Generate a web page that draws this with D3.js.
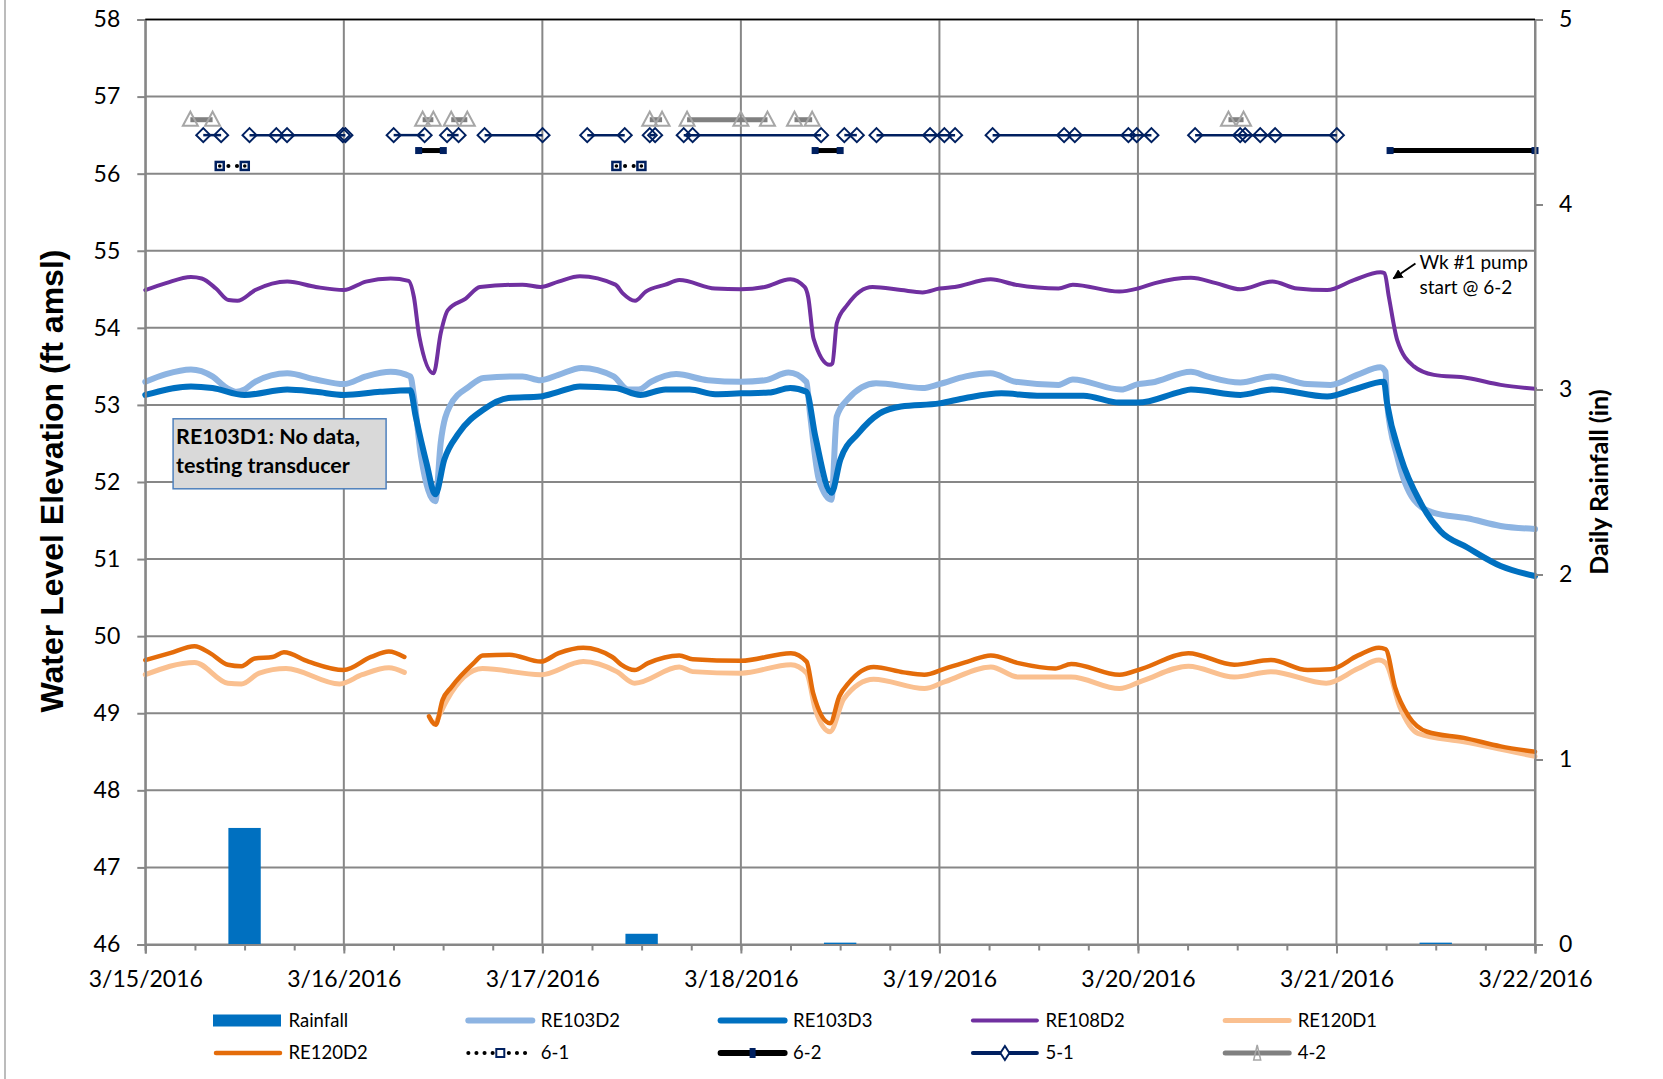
<!DOCTYPE html>
<html>
<head>
<meta charset="utf-8">
<script src="https://cdn.jsdelivr.net/npm/d3@7/dist/d3.min.js"></script>
<style>
  body { margin: 0; background: #fff; }
</style>
</head>
<body>
<div id="chart"></div>
<script>
// time is kept as days after 3/15/2016 00:00
var leftTicks = [46, 47, 48, 49, 50, 51, 52, 53, 54, 55, 56, 57, 58];
var rightTicks = [0, 1, 2, 3, 4, 5];

// daily rainfall (in), plotted at noon of each day
var rainDays = [0.5, 1.5, 2.5, 3.5, 4.5, 5.5, 6.5];
var rainfall = [0.63, 0, 0.058, 0.01, 0, 0, 0.01];

var re103d2 = [[0,53.3],[0.104,53.4],[0.23,53.46],[0.338,53.37],[0.41,53.22],[0.46,53.17],[0.5,53.2],[0.553,53.3],[0.715,53.41],[0.859,53.33],[1.0,53.27],[1.111,53.37],[1.236,53.43],[1.335,53.37],[1.353,53.11],[1.389,52.33],[1.461,51.75],[1.488,52.51],[1.533,52.98],[1.632,53.24],[1.704,53.35],[1.9,53.37],[1.99,53.32],[2.081,53.39],[2.197,53.48],[2.359,53.37],[2.431,53.2],[2.485,53.2],[2.548,53.3],[2.674,53.4],[2.834,53.32],[3.0,53.3],[3.122,53.32],[3.24,53.42],[3.33,53.3],[3.348,52.89],[3.393,52.03],[3.456,51.77],[3.483,52.85],[3.537,53.07],[3.681,53.28],[3.915,53.22],[4.0,53.27],[4.132,53.37],[4.258,53.41],[4.384,53.3],[4.6,53.26],[4.672,53.33],[4.915,53.2],[5.0,53.27],[5.068,53.29],[5.267,53.43],[5.348,53.37],[5.516,53.29],[5.676,53.37],[5.852,53.27],[5.97,53.26],[6.104,53.39],[6.222,53.49],[6.247,53.43],[6.255,53.02],[6.306,52.33],[6.39,51.77],[6.491,51.6],[6.659,51.53],[6.827,51.43],[7.0,51.39]];

var re103d3 = [[0,53.13],[0.23,53.24],[0.338,53.22],[0.5,53.13],[0.715,53.2],[0.859,53.17],[1.0,53.13],[1.183,53.17],[1.335,53.19],[1.362,52.85],[1.416,52.25],[1.461,51.84],[1.506,52.29],[1.578,52.63],[1.704,52.94],[1.829,53.09],[1.99,53.11],[2.081,53.17],[2.189,53.24],[2.368,53.22],[2.494,53.13],[2.62,53.2],[2.742,53.2],[2.87,53.14],[3.0,53.15],[3.14,53.16],[3.249,53.22],[3.33,53.17],[3.375,52.59],[3.456,51.86],[3.501,52.29],[3.591,52.63],[3.699,52.89],[3.807,52.98],[4.0,53.02],[4.132,53.09],[4.312,53.15],[4.492,53.12],[4.726,53.12],[4.906,53.03],[5.0,53.03],[5.213,53.17],[5.267,53.2],[5.516,53.13],[5.676,53.2],[5.953,53.11],[6.087,53.2],[6.239,53.3],[6.255,53.02],[6.323,52.33],[6.424,51.73],[6.524,51.36],[6.659,51.15],[6.827,50.91],[7.0,50.78]];

var re108d2 = [[0,54.49],[0.104,54.58],[0.23,54.66],[0.284,54.64],[0.356,54.51],[0.419,54.36],[0.464,54.35],[0.554,54.49],[0.715,54.6],[0.859,54.53],[1.0,54.49],[1.111,54.6],[1.236,54.64],[1.326,54.61],[1.353,54.4],[1.38,53.89],[1.452,53.41],[1.488,53.93],[1.524,54.23],[1.614,54.38],[1.686,54.53],[1.9,54.56],[1.99,54.53],[2.081,54.6],[2.189,54.67],[2.368,54.56],[2.404,54.45],[2.467,54.35],[2.521,54.47],[2.62,54.56],[2.69,54.62],[2.87,54.51],[3.0,54.5],[3.12,54.53],[3.249,54.63],[3.321,54.53],[3.339,54.4],[3.366,53.86],[3.447,53.52],[3.461,53.54],[3.483,54.06],[3.537,54.3],[3.663,54.53],[3.807,54.49],[3.915,54.46],[4.0,54.51],[4.077,54.53],[4.258,54.63],[4.384,54.56],[4.6,54.51],[4.672,54.56],[4.906,54.47],[5.0,54.51],[5.086,54.58],[5.267,54.65],[5.393,54.58],[5.516,54.5],[5.676,54.6],[5.802,54.51],[5.953,54.49],[6.087,54.62],[6.222,54.72],[6.242,54.71],[6.264,54.4],[6.306,53.84],[6.39,53.5],[6.491,53.39],[6.659,53.35],[6.827,53.26],[7.0,53.21]];

var re120d1 = [[0,49.5],[0.248,49.66],[0.416,49.39],[0.484,49.38],[0.574,49.52],[0.709,49.58],[0.979,49.38],[1.092,49.5],[1.227,49.59],[1.305,49.53],[1.38,null],[1.463,48.87],[1.519,49.17],[1.699,49.58],[1.992,49.5],[2.206,49.67],[2.375,49.54],[2.465,49.39],[2.69,49.6],[2.757,49.54],[3.0,49.52],[3.252,49.63],[3.331,49.52],[3.376,49.04],[3.449,48.76],[3.519,49.19],[3.669,49.44],[3.924,49.32],[4.028,49.41],[4.259,49.6],[4.398,49.47],[4.664,49.47],[4.907,49.32],[5.022,49.42],[5.254,49.61],[5.485,49.47],[5.67,49.54],[5.948,49.39],[6.109,49.58],[6.214,49.69],[6.248,49.65],[6.318,49.09],[6.41,48.74],[6.642,48.63],[7.0,48.44]];

var re120d2 = [[0,49.69],[0.124,49.78],[0.248,49.87],[0.326,49.78],[0.416,49.63],[0.484,49.61],[0.551,49.71],[0.641,49.73],[0.698,49.79],[0.822,49.67],[1.0,49.56],[1.137,49.73],[1.227,49.8],[1.305,49.73],[1.37,null],[1.429,48.96],[1.463,48.85],[1.497,49.17],[1.542,49.34],[1.654,49.65],[1.699,49.75],[1.834,49.76],[1.992,49.67],[2.082,49.78],[2.206,49.85],[2.352,49.73],[2.397,49.63],[2.465,49.56],[2.532,49.65],[2.69,49.75],[2.757,49.7],[3.0,49.68],[3.252,49.78],[3.331,49.67],[3.364,49.26],[3.449,48.87],[3.496,49.22],[3.542,49.39],[3.669,49.6],[3.82,49.53],[3.924,49.5],[4.028,49.58],[4.143,49.67],[4.259,49.75],[4.398,49.65],[4.583,49.58],[4.664,49.64],[4.907,49.5],[5.022,49.58],[5.254,49.78],[5.485,49.63],[5.67,49.69],[5.855,49.56],[5.971,49.57],[6.109,49.75],[6.214,49.85],[6.248,49.83],[6.295,49.34],[6.364,48.96],[6.457,48.76],[6.642,48.68],[6.827,48.57],[7.0,48.5]];

// pump run periods (days), each drawn at a fixed elevation
var pumpNames = ["6-1", "6-2", "5-1", "4-2"];
var pumpLevels = [56.1, 56.3, 56.5, 56.7];
var pump61 = [[0.375, 0.501], [2.373, 2.499]];
var pump62 = [[1.377, 1.501], [3.374, 3.5], [6.27, 7.0]];
var pump51 = [[0.292, 0.382], [0.525, 0.66, 0.714, 0.995, 1.008], [1.251, 1.407], [1.52, 1.578], [1.709, 2.001], [2.226, 2.415], [2.541, 2.568], [2.712, 2.757, 3.404], [3.521, 3.584], [3.683, 3.953, 4.025, 4.079], [4.268, 4.628, 4.682, 4.952, 4.994, 5.068], [5.288, 5.515, 5.54, 5.616, 5.691, 6.002]];
var pump42 = [[0.227, 0.339], [1.397, 1.451], [1.541, 1.622], [2.541, 2.603], [2.729, 3.0, 3.134], [3.27, 3.359], [5.456, 5.532]];

var legendNames = ["Rainfall", "RE103D2", "RE103D3", "RE108D2", "RE120D1",
                   "RE120D2", "6-1", "6-2", "5-1", "4-2"];

var margin = {top: 19.5, right: 128, bottom: 134.5, left: 145.3},
    width = 1663 - margin.left - margin.right,
    height = 1079 - margin.top - margin.bottom;

var start = new Date(2016, 2, 15);
function toDate(d) { return new Date(start.getTime() + d * 864e5); }

var x = d3.scaleTime().domain([toDate(0), toDate(7)]).range([0, width]);
var y = d3.scaleLinear().domain([46, 58]).range([height, 0]);
var y2 = d3.scaleLinear().domain([0, 5]).range([height, 0]);

var gridColor = "#878787";
var navy = "#002060";

var svg = d3.select("#chart").append("svg")
    .attr("width", 1663)
    .attr("height", 1079)
    .style("font-family", "Lato, sans-serif");

svg.append("rect").attr("width", 1663).attr("height", 1079).attr("fill", "#fff");

// chart frame edge
svg.append("line")
    .attr("x1", 5).attr("x2", 5).attr("y1", 0).attr("y2", 1079)
    .attr("stroke", "#a6a6a6").attr("stroke-width", 1.5);

var g = svg.append("g")
    .attr("transform", `translate(${margin.left},${margin.top})`);

// gridlines
g.append("g").selectAll("line")
    .data(leftTicks)
    .enter().append("line")
      .attr("x1", 0).attr("x2", width)
      .attr("y1", function(d) { return y(d); })
      .attr("y2", function(d) { return y(d); })
      .attr("stroke", gridColor).attr("stroke-width", 2);

g.append("g").selectAll("line")
    .data(d3.range(0, 8))
    .enter().append("line")
      .attr("x1", function(d) { return x(toDate(d)); })
      .attr("x2", function(d) { return x(toDate(d)); })
      .attr("y1", 0).attr("y2", height)
      .attr("stroke", gridColor).attr("stroke-width", 2);

// rainfall columns
var barW = x(toDate(0.163)) - x(toDate(0));
g.append("g").selectAll("rect")
    .data(rainDays.map(function(d, i) { return {day: d, value: rainfall[i]}; }))
    .enter().append("rect")
      .attr("x", function(d) { return x(toDate(d.day)) - barW / 2; })
      .attr("y", function(d) { return y2(d.value); })
      .attr("width", barW)
      .attr("height", function(d) { return height - y2(d.value); })
      .attr("fill", "#0070C0");

var line = d3.line()
    .defined(function(d) { return d[1] != null; })
    .x(function(d) { return x(toDate(d[0])); })
    .y(function(d) { return y(d[1]); })
    .curve(d3.curveMonotoneX);

var series = [
  {data: re103d2, color: "#8DB4E2", w: 6},
  {data: re103d3, color: "#0070C0", w: 6},
  {data: re108d2, color: "#7030A0", w: 4},
  {data: re120d1, color: "#FAC090", w: 5},
  {data: re120d2, color: "#E46C0A", w: 4.5}
];

g.append("g").selectAll("path")
    .data(series)
    .enter().append("path")
      .attr("d", function(d) { return line(d.data); })
      .attr("fill", "none")
      .attr("stroke", function(d) { return d.color; })
      .attr("stroke-width", function(d) { return d.w; })
      .attr("stroke-linejoin", "round")
      .attr("stroke-linecap", "round");

// pump on/off lines
var diamond = "M0,-7L7,0L0,7L-7,0Z";
var triangle = "M0,-8L7.5,6L-7.5,6Z";

function pumpPts(segs, level) {
  return segs.map(function(s) { return s.map(function(d) { return [d, level]; }); });
}
var straight = d3.line()
    .x(function(d) { return x(toDate(d[0])); })
    .y(function(d) { return y(d[1]); });

// 6-1
var p61 = g.append("g");
pumpPts(pump61, pumpLevels[0]).forEach(function(seg) {
  p61.append("path").attr("d", straight(seg))
      .attr("stroke", "#000").attr("stroke-width", 4).attr("fill", "none")
      .attr("stroke-linecap", "round").attr("stroke-dasharray", "0.1 8.5");
  p61.selectAll(null).data(seg).enter().append("rect")
      .attr("x", function(d) { return x(toDate(d[0])) - 4; })
      .attr("y", function(d) { return y(d[1]) - 4; })
      .attr("width", 8).attr("height", 8)
      .attr("fill", "#fff").attr("stroke", navy).attr("stroke-width", 2.5);
  p61.selectAll(null).data(seg).enter().append("circle")
      .attr("cx", function(d) { return x(toDate(d[0])); })
      .attr("cy", function(d) { return y(d[1]); })
      .attr("r", 1.8).attr("fill", "#000");
});

// 6-2
var p62 = g.append("g");
pumpPts(pump62, pumpLevels[1]).forEach(function(seg) {
  p62.append("path").attr("d", straight(seg))
      .attr("stroke", "#000").attr("stroke-width", 5).attr("fill", "none");
  p62.selectAll(null).data(seg).enter().append("rect")
      .attr("x", function(d) { return x(toDate(d[0])) - 3.5; })
      .attr("y", function(d) { return y(d[1]) - 3.5; })
      .attr("width", 7).attr("height", 7)
      .attr("fill", navy);
});

// 5-1
var p51 = g.append("g");
pumpPts(pump51, pumpLevels[2]).forEach(function(seg) {
  p51.append("path").attr("d", straight(seg))
      .attr("stroke", navy).attr("stroke-width", 2.5).attr("fill", "none");
  p51.selectAll(null).data(seg).enter().append("path")
      .attr("d", diamond)
      .attr("transform", function(d) { return `translate(${x(toDate(d[0]))},${y(d[1])})`; })
      .attr("fill", "none").attr("stroke", navy).attr("stroke-width", 2);
});

// 4-2
var p42 = g.append("g");
pumpPts(pump42, pumpLevels[3]).forEach(function(seg) {
  p42.append("path").attr("d", straight(seg))
      .attr("stroke", "#808080").attr("stroke-width", 5).attr("fill", "none");
  p42.selectAll(null).data(seg).enter().append("path")
      .attr("d", triangle)
      .attr("transform", function(d) { return `translate(${x(toDate(d[0]))},${y(d[1])})`; })
      .attr("fill", "none").attr("stroke", "#a6a6a6").attr("stroke-width", 2);
});

// axes
function styleAxis(sel, size) {
  sel.selectAll(".domain").attr("stroke", gridColor).attr("stroke-width", 2);
  sel.selectAll(".tick line").attr("stroke", gridColor).attr("stroke-width", 2);
  sel.selectAll("text").attr("font-family", "Lato, sans-serif")
      .attr("font-size", size).attr("fill", "#000");
}

g.append("g")
    .attr("transform", `translate(0,${height})`)
    .call(d3.axisBottom(x).ticks(d3.timeHour.every(6)).tickSize(6).tickFormat(""))
    .call(styleAxis, 23);

g.append("g")
    .attr("transform", `translate(0,${height})`)
    .call(d3.axisBottom(x).ticks(d3.timeDay.every(1))
        .tickFormat(d3.timeFormat("%-m/%-d/%Y")).tickSize(9).tickPadding(17))
    .call(styleAxis, 23);

g.append("g")
    .call(d3.axisLeft(y).tickValues(leftTicks).tickSize(8).tickPadding(17))
    .call(styleAxis, 23);

g.append("g")
    .attr("transform", `translate(${width},0)`)
    .call(d3.axisRight(y2).tickValues(rightTicks).tickFormat(d3.format("d"))
        .tickSize(8).tickPadding(16))
    .call(styleAxis, 23);

// top border
g.append("line")
    .attr("x1", 0).attr("x2", width).attr("y1", 0).attr("y2", 0)
    .attr("stroke", "#000").attr("stroke-width", 1.5);

// axis titles
svg.append("text")
    .attr("transform", "translate(63,481) rotate(-90)")
    .attr("text-anchor", "middle")
    .attr("font-family", "'Liberation Sans', Arial, sans-serif")
    .attr("font-weight", "bold")
    .style("font-size", "32px")
    .text("Water Level Elevation (ft amsl)");

svg.append("text")
    .attr("transform", "translate(1608,482) rotate(-90)")
    .attr("text-anchor", "middle")
    .attr("font-weight", "bold")
    .style("font-size", "25px")
    .text("Daily Rainfall (in)");

// note box
var note = g.append("g")
    .attr("transform", `translate(${x(toDate(0.14))},${y(52.82)})`);
note.append("rect")
    .attr("width", 213).attr("height", 70)
    .attr("fill", "#D9D9D9").attr("stroke", "#4F81BD").attr("stroke-width", 1.5);
note.append("text")
    .attr("x", 3).attr("y", 25)
    .attr("font-weight", "bold").style("font-size", "21.5px")
    .text("RE103D1: No data,");
note.append("text")
    .attr("x", 3).attr("y", 54)
    .attr("font-weight", "bold").style("font-size", "21.5px")
    .text("testing transducer");

// pump start callout
svg.append("defs").append("marker")
    .attr("id", "arrow")
    .attr("viewBox", "0 0 10 10")
    .attr("refX", 9).attr("refY", 5)
    .attr("markerWidth", 5).attr("markerHeight", 5)
    .attr("orient", "auto")
  .append("path")
    .attr("d", "M0,0L10,5L0,10Z")
    .attr("fill", "#000");

var ax = x(toDate(6.287)), ay = y(54.64);
g.append("line")
    .attr("x1", ax + 22).attr("y1", ay - 15)
    .attr("x2", ax).attr("y2", ay)
    .attr("stroke", "#000").attr("stroke-width", 2)
    .attr("marker-end", "url(#arrow)");
g.append("text")
    .attr("x", ax + 26).attr("y", ay - 10)
    .style("font-size", "19px")
    .text("Wk #1 pump");
g.append("text")
    .attr("x", ax + 26).attr("y", ay + 15)
    .style("font-size", "19px")
    .text("start @ 6-2");

// legend
var legend = svg.append("g")
  .selectAll("g")
  .data(legendNames)
  .enter().append("g")
    .attr("transform", function(d, i) {
      return "translate(" + (213 + (i % 5) * 252.3) + "," + (i < 5 ? 1020.5 : 1053) + ")";
    });

legend.each(function(d) {
  var s = d3.select(this);
  var colors = {RE103D2: ["#8DB4E2", 6], RE103D3: ["#0070C0", 6], RE108D2: ["#7030A0", 4],
                RE120D1: ["#FAC090", 5], RE120D2: ["#E46C0A", 4.5]};
  if (d == "Rainfall") {
    s.append("rect").attr("x", 0).attr("y", -6).attr("width", 68).attr("height", 12).attr("fill", "#0070C0");
  } else if (colors[d]) {
    s.append("line").attr("x1", 3).attr("x2", 67).attr("y1", 0).attr("y2", 0)
        .attr("stroke", colors[d][0]).attr("stroke-width", colors[d][1]).attr("stroke-linecap", "round");
  } else if (d == "6-1") {
    s.append("line").attr("x1", 3).attr("x2", 67).attr("y1", 0).attr("y2", 0)
        .attr("stroke", "#000").attr("stroke-width", 4).attr("stroke-linecap", "round")
        .attr("stroke-dasharray", "0.1 8");
    s.append("rect").attr("x", 31).attr("y", -4).attr("width", 8).attr("height", 8)
        .attr("fill", "#fff").attr("stroke", navy).attr("stroke-width", 2);
  } else if (d == "6-2") {
    s.append("line").attr("x1", 3).attr("x2", 67).attr("y1", 0).attr("y2", 0)
        .attr("stroke", "#000").attr("stroke-width", 6).attr("stroke-linecap", "round");
    s.append("rect").attr("x", 32).attr("y", -5).attr("width", 6).attr("height", 10).attr("fill", navy);
  } else if (d == "5-1") {
    s.append("line").attr("x1", 3).attr("x2", 67).attr("y1", 0).attr("y2", 0)
        .attr("stroke", navy).attr("stroke-width", 4).attr("stroke-linecap", "round");
    s.append("path").attr("d", "M0,-7L4.5,0L0,7L-4.5,0Z").attr("transform", "translate(35,0)")
        .attr("fill", "#fff").attr("stroke", navy).attr("stroke-width", 2);
  } else {
    s.append("line").attr("x1", 3).attr("x2", 67).attr("y1", 0).attr("y2", 0)
        .attr("stroke", "#808080").attr("stroke-width", 5).attr("stroke-linecap", "round");
    s.append("path").attr("d", "M0,-8L3.5,7L-3.5,7Z").attr("transform", "translate(35,0)")
        .attr("fill", "none").attr("stroke", "#a6a6a6").attr("stroke-width", 1.5);
  }
  s.append("text")
      .attr("x", 75.5).attr("dy", "0.35em")
      .style("font-size", "18.5px")
      .text(d);
});
</script>
</body>
</html>
